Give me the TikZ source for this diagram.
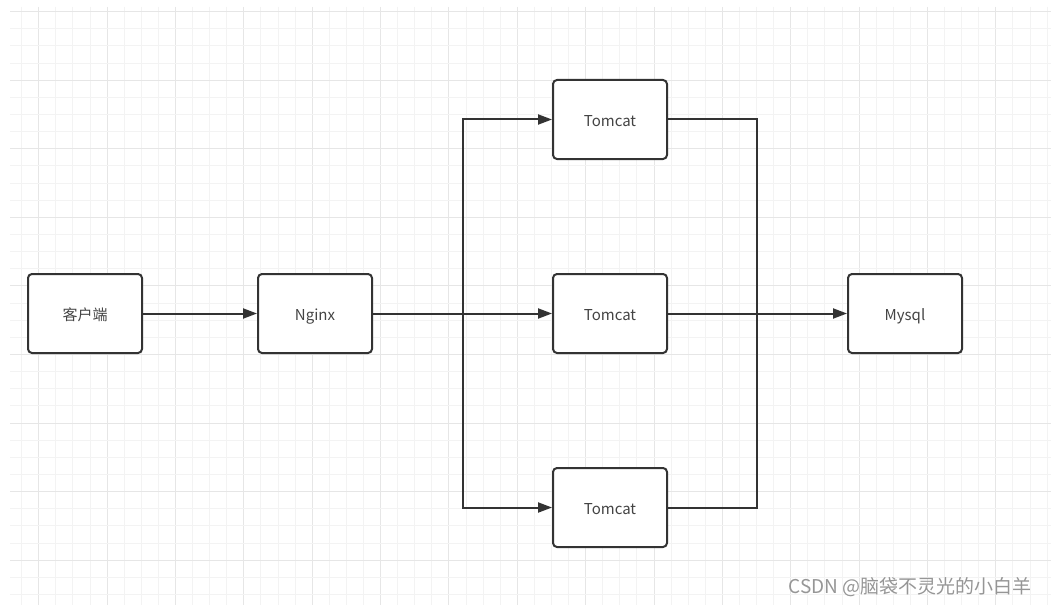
\documentclass[tikz,border=0pt]{standalone}
\usepackage{fontspec}
\setmainfont{Noto Sans CJK SC}
\usetikzlibrary{arrows.meta,positioning}
\definecolor{inkgray}{HTML}{333333}
\definecolor{labelgray}{HTML}{444444}
\definecolor{gridminor}{HTML}{F3F3F3}
\definecolor{gridmajor}{HTML}{E6E6E6}
\definecolor{markgray}{HTML}{969696}

\begin{document}
\begin{tikzpicture}[
    x=1pt, y=-1pt,
    every node/.style={font=\fontsize{15}{18}\selectfont, text=labelgray},
    server/.style={rectangle, rounded corners=4pt, draw=inkgray, line width=2pt,
        fill=white, minimum width=114pt, minimum height=79pt, inner sep=0pt,
        text height=13.5pt, text depth=0pt},
    link/.style={draw=inkgray, line width=2pt},
    flow/.style={link, -{Triangle[length=14pt, width=10pt]}},
]
\useasboundingbox (0,0) rectangle (1051,607);
\fill[white] (0,0) rectangle (1051,607);

% Background grid
\foreach \i in {0,...,60} {
    \pgfmathsetmacro{\gx}{21.7+17.09*\i}
    \pgfmathparse{mod(\i,4)==1 ? 1 : 0}
    \ifnum\pgfmathresult=1
        \draw[gridmajor, line width=1pt] (\gx,7) -- (\gx,605);
    \else
        \draw[gridminor, line width=1pt] (\gx,7) -- (\gx,605);
    \fi
}
\foreach \j in {0,...,34} {
    \pgfmathsetmacro{\gy}{11.7+17.14*\j}
    \pgfmathparse{mod(\j,4)==0 ? 1 : 0}
    \ifnum\pgfmathresult=1
        \draw[gridmajor, line width=1pt] (10,\gy) -- (1051,\gy);
    \else
        \draw[gridminor, line width=1pt] (10,\gy) -- (1051,\gy);
    \fi
}

% Nodes
\node[server] (client) at (85,313.5) {客户端};
\node[server] (nginx) at (315,313.5) {Nginx};
\node[server] (tomcatA) at (610,119.5) {Tomcat};
\node[server] (tomcatB) at (610,313.5) {Tomcat};
\node[server] (tomcatC) at (610,507.5) {Tomcat};
\node[server] (mysql) at (905,313.5) {Mysql};

% Branch points
\coordinate (split) at (463,313.5);
\coordinate (merge) at (757,313.5);

% Connectors
\draw[flow] (client) -- (nginx);
\draw[flow] (nginx) -- (tomcatB);
\draw[flow] (split) |- (tomcatA);
\draw[flow] (split) |- (tomcatC);
\draw[link] (tomcatA) -| (merge);
\draw[link] (tomcatC) -| (merge);
\draw[flow] (tomcatB) -- (mysql);

% Watermark
\node[font=\fontsize{19}{22}\selectfont, text=markgray] (mark) at (910,587) {CSDN @脑袋不灵光的小白羊};
\end{tikzpicture}
\end{document}
